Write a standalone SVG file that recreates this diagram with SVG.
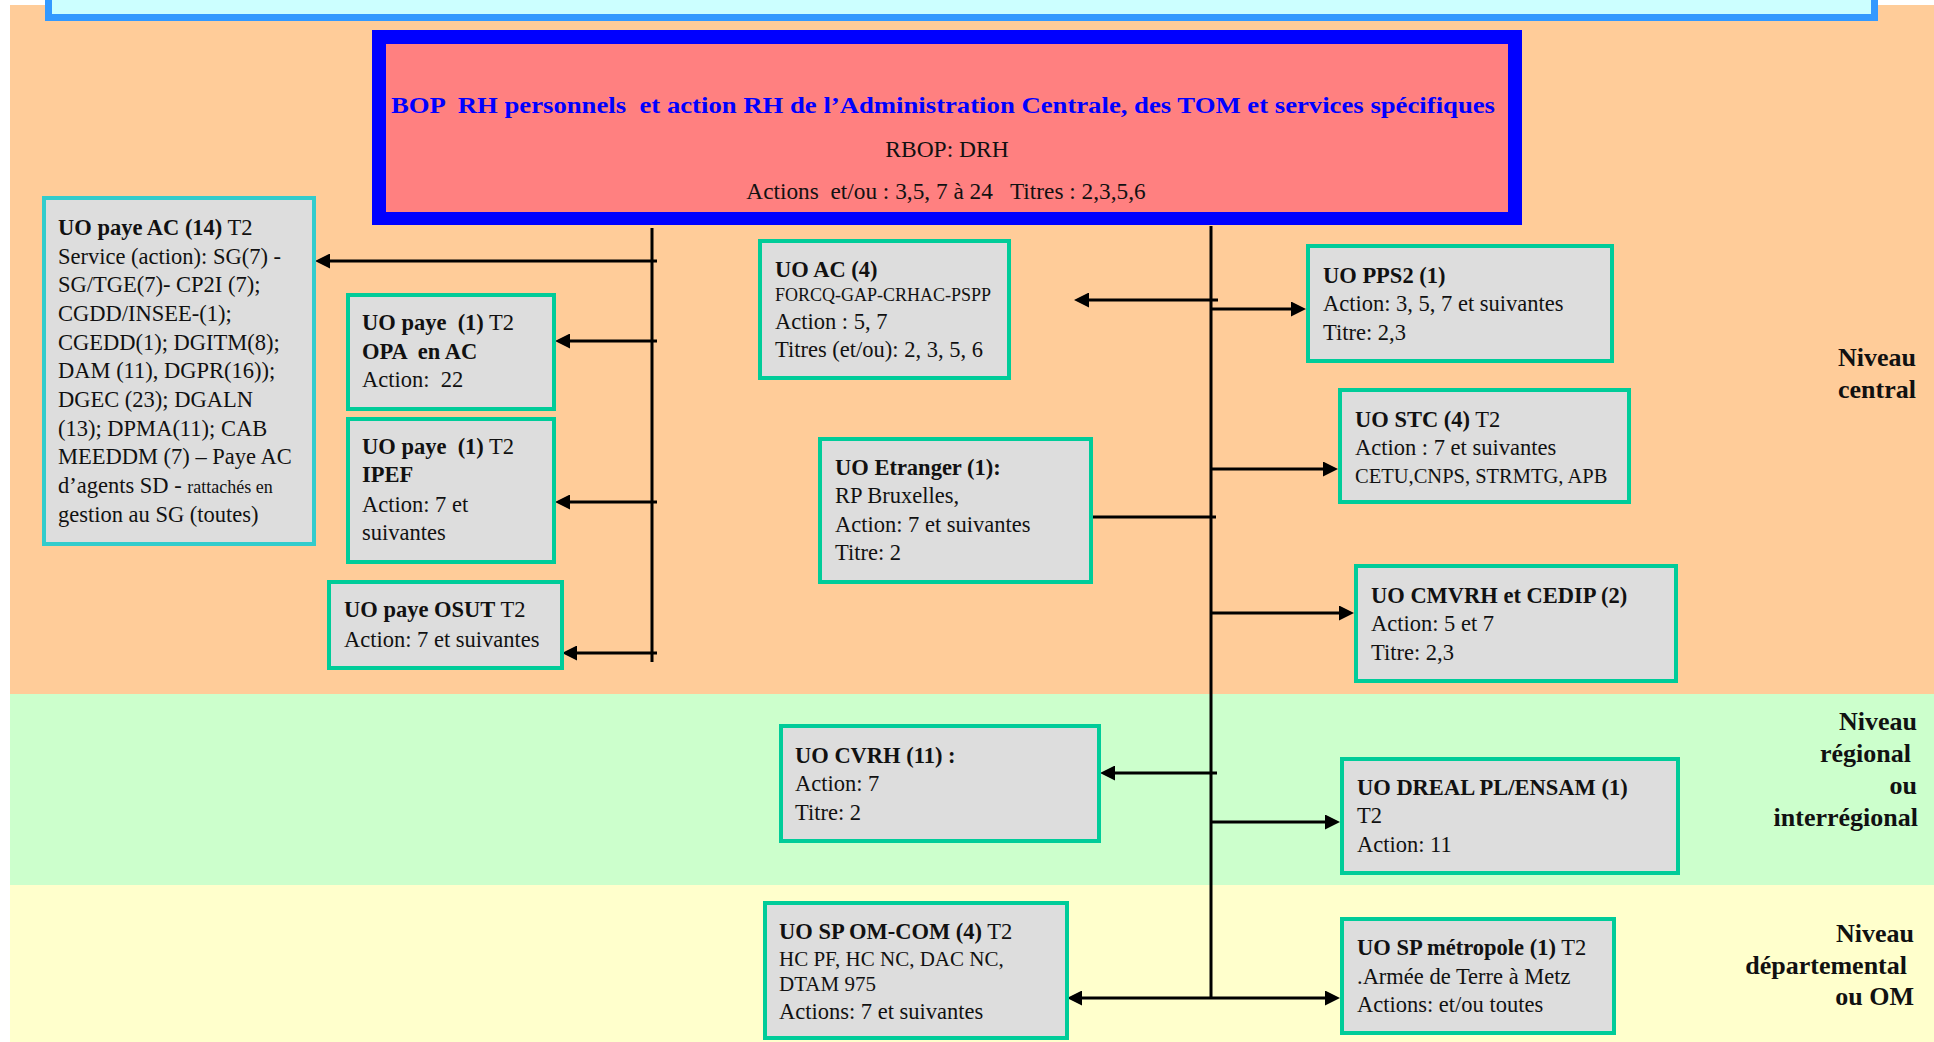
<svg xmlns="http://www.w3.org/2000/svg" width="1934" height="1042" viewBox="0 0 1934 1042">
<style>
text{font-family:"Liberation Serif","Times New Roman",serif;fill:#111;white-space:pre}
.t{font-size:22.5px}
.b{font-weight:bold}
.sm{font-size:18px}
.box{fill:#dddddd;stroke:#00cc99;stroke-width:4}
.lbl{font-size:26px;font-weight:bold;text-anchor:end}
.c line{stroke:#000;stroke-width:3}
.c .a{marker-end:url(#ah)}
</style>
<defs>
<marker id="ah" markerUnits="userSpaceOnUse" markerWidth="15" markerHeight="15" refX="4" refY="7.5" orient="auto-start-reverse" viewBox="0 0 15 15"><path d="M0,0 L15,7.5 L0,15 z" fill="#000"/></marker>
</defs>
<rect width="1934" height="1042" fill="#fff"/>
<g id="bands">
<rect x="10" y="5" width="1924" height="689" fill="#ffcc99"/>
<rect x="10" y="694" width="1924" height="191" fill="#ccffcc"/>
<rect x="10" y="885" width="1924" height="157" fill="#ffffcc"/>
</g>
<g id="topbox">
<rect x="45" y="-10" width="1833" height="31" fill="#3399ff"/>
<rect x="52" y="-10" width="1819" height="24" fill="#ccffff"/>
</g>
<g id="levels">
<text class="lbl" x="1916" y="366">Niveau</text>
<text class="lbl" x="1916" y="398">central</text>
<text class="lbl" x="1917" y="730">Niveau</text>
<text class="lbl" x="1911" y="762">régional</text>
<text class="lbl" x="1917" y="794">ou</text>
<text class="lbl" x="1918" y="826">interrégional</text>
<text class="lbl" x="1914" y="942">Niveau</text>
<text class="lbl" x="1907" y="974">départemental</text>
<text class="lbl" x="1914" y="1005">ou OM</text>
</g>
<g id="bop">
<rect x="372" y="30" width="1150" height="195" fill="#0000ff"/>
<rect x="386" y="44" width="1122" height="168" fill="#ff8080"/>
<text x="943" y="113" font-size="24" font-weight="bold" text-anchor="middle" textLength="1104" lengthAdjust="spacingAndGlyphs" style="fill:#0000ff">BOP  RH personnels  et action RH de l’Administration Centrale, des TOM et services spécifiques</text>
<text x="947" y="157" font-size="23.5" text-anchor="middle">RBOP: DRH</text>
<text x="946" y="199" font-size="23.3" text-anchor="middle">Actions  et/ou : 3,5, 7 à 24   Titres : 2,3,5,6</text>
</g>
<g id="connectors" class="c">
<line x1="652" y1="228" x2="652" y2="662"/>
<line x1="1211" y1="226" x2="1211" y2="999"/>
<line class="a" x1="657" y1="261" x2="326" y2="261"/>
<line class="a" x1="657" y1="341" x2="566" y2="341"/>
<line class="a" x1="657" y1="502" x2="566" y2="502"/>
<line class="a" x1="657" y1="653" x2="573" y2="653"/>
<line class="a" x1="1218" y1="300" x2="1085" y2="300"/>
<line class="a" x1="1211" y1="309" x2="1295" y2="309"/>
<line class="a" x1="1211" y1="469" x2="1327" y2="469"/>
<line x1="1093" y1="517" x2="1216" y2="517"/>
<line class="a" x1="1211" y1="613" x2="1343" y2="613"/>
<line class="a" x1="1217" y1="773" x2="1111" y2="773"/>
<line class="a" x1="1211" y1="822" x2="1329" y2="822"/>
<line class="a" x1="1078" y1="998" x2="1329" y2="998" style="marker-start:url(#ah)"/>
</g>
<g id="uo-paye-ac">
<rect class="box" x="44" y="198" width="270" height="346" style="stroke:#33cccc"/>
<text class="t" x="58" y="235"><tspan class="b">UO paye AC (14)</tspan> T2</text>
<text class="t" x="58" y="264">Service (action): SG(7) -</text>
<text class="t" x="58" y="292">SG/TGE(7)- CP2I (7);</text>
<text class="t" x="58" y="321">CGDD/INSEE-(1);</text>
<text class="t" x="58" y="350">CGEDD(1); DGITM(8);</text>
<text class="t" x="58" y="378">DAM (11), DGPR(16));</text>
<text class="t" x="58" y="407">DGEC (23); DGALN</text>
<text class="t" x="58" y="436">(13); DPMA(11); CAB</text>
<text class="t" x="58" y="464">MEEDDM (7) – Paye AC</text>
<text class="t" x="58" y="493">d’agents SD - <tspan class="sm">rattachés en</tspan></text>
<text class="t" x="58" y="522">gestion au SG (toutes)</text>
</g>
<g id="uo-paye-opa">
<rect class="box" x="348" y="295" width="206" height="114"/>
<text class="t" x="362" y="330"><tspan class="b">UO paye  (1)</tspan> T2</text>
<text class="t b" x="362" y="359">OPA  en AC</text>
<text class="t" x="362" y="387">Action:  22</text>
</g>
<g id="uo-paye-ipef">
<rect class="box" x="348" y="419" width="206" height="143"/>
<text class="t" x="362" y="454"><tspan class="b">UO paye  (1)</tspan> T2</text>
<text class="t b" x="362" y="482">IPEF</text>
<text class="t" x="362" y="512">Action: 7 et</text>
<text class="t" x="362" y="540">suivantes</text>
</g>
<g id="uo-paye-osut">
<rect class="box" x="329" y="582" width="233" height="86"/>
<text class="t" x="344" y="617"><tspan class="b">UO paye OSUT</tspan> T2</text>
<text class="t" x="344" y="647">Action: 7 et suivantes</text>
</g>
<g id="uo-ac">
<rect class="box" x="760" y="241" width="249" height="137"/>
<text class="t b" x="775" y="277">UO AC (4)</text>
<text class="sm" x="775" y="301">FORCQ-GAP-CRHAC-PSPP</text>
<text class="t" x="775" y="329">Action : 5, 7</text>
<text class="t" x="775" y="357">Titres (et/ou): 2, 3, 5, 6</text>
</g>
<g id="uo-etranger">
<rect class="box" x="820" y="439" width="271" height="143"/>
<text class="t b" x="835" y="475">UO Etranger (1):</text>
<text class="t" x="835" y="503">RP Bruxelles,</text>
<text class="t" x="835" y="532">Action: 7 et suivantes</text>
<text class="t" x="835" y="560">Titre: 2</text>
</g>
<g id="uo-pps2">
<rect class="box" x="1308" y="246" width="304" height="115"/>
<text class="t b" x="1323" y="283">UO PPS2 (1)</text>
<text class="t" x="1323" y="311">Action: 3, 5, 7 et suivantes</text>
<text class="t" x="1323" y="340">Titre: 2,3</text>
</g>
<g id="uo-stc">
<rect class="box" x="1340" y="390" width="289" height="112"/>
<text class="t" x="1355" y="427"><tspan class="b">UO STC (4)</tspan> T2</text>
<text class="t" x="1355" y="455">Action : 7 et suivantes</text>
<text x="1355" y="483" font-size="20.5">CETU,CNPS, STRMTG, APB</text>
</g>
<g id="uo-cmvrh">
<rect class="box" x="1356" y="566" width="320" height="115"/>
<text class="t b" x="1371" y="603">UO CMVRH et CEDIP (2)</text>
<text class="t" x="1371" y="631">Action: 5 et 7</text>
<text class="t" x="1371" y="660">Titre: 2,3</text>
</g>
<g id="uo-cvrh">
<rect class="box" x="781" y="726" width="318" height="115"/>
<text class="t b" x="795" y="763">UO CVRH (11) :</text>
<text class="t" x="795" y="791">Action: 7</text>
<text class="t" x="795" y="820">Titre: 2</text>
</g>
<g id="uo-dreal">
<rect class="box" x="1342" y="759" width="336" height="114"/>
<text class="t b" x="1357" y="795">UO DREAL PL/ENSAM (1)</text>
<text class="t" x="1357" y="823">T2</text>
<text class="t" x="1357" y="852">Action: 11</text>
</g>
<g id="uo-sp-om-com">
<rect class="box" x="765" y="903" width="302" height="135"/>
<text class="t" x="779" y="939"><tspan class="b">UO SP OM-COM (4)</tspan> T2</text>
<text x="779" y="966" font-size="21">HC PF, HC NC, DAC NC,</text>
<text x="779" y="991" font-size="21">DTAM 975</text>
<text class="t" x="779" y="1019">Actions: 7 et suivantes</text>
</g>
<g id="uo-sp-metropole">
<rect class="box" x="1342" y="919" width="272" height="114"/>
<text class="t" x="1357" y="955"><tspan class="b">UO SP métropole (1)</tspan> T2</text>
<text class="t" x="1357" y="984">.Armée de Terre à Metz</text>
<text class="t" x="1357" y="1012">Actions: et/ou toutes</text>
</g>
</svg>
